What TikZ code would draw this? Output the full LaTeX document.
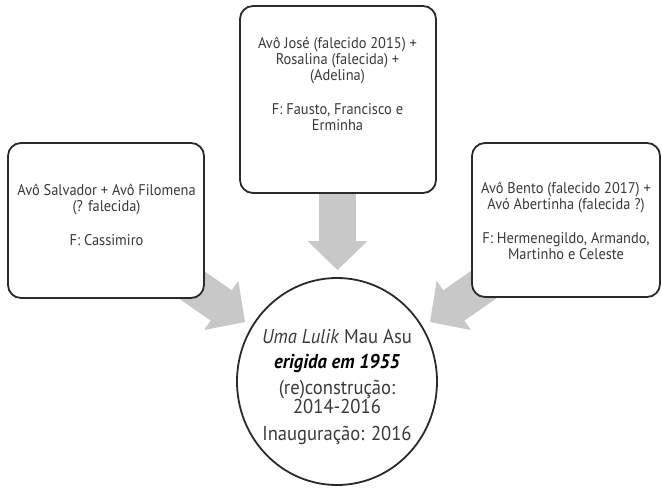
\documentclass[tikz,border=0pt]{standalone}
\usepackage{fontspec}
\setmainfont{PT Sans}[FakeStretch=0.93]
\usetikzlibrary{arrows.meta,shapes.geometric}
\definecolor{arrowgray}{HTML}{C8C8C8}
\definecolor{inkline}{HTML}{2A2A2A}
\definecolor{inktext}{HTML}{3A3A3A}
\begin{document}
\begin{tikzpicture}[x=1pt,y=-1pt,
  famebox/.style={draw=inkline, line width=1.8pt, rounded corners=13pt, fill=white, inner sep=0pt, rectangle},
  boxtext/.style={align=center, text=inktext, font=\fontsize{15.5}{16}\selectfont, inner sep=0pt},
  hubtext/.style={align=center, text=inktext, font=\fontsize{20}{19}\selectfont, inner sep=0pt},
  blockarrow/.style={draw=arrowgray, line width=37pt, -{Triangle[length=29pt,width=60pt,line width=0pt]}}]
\useasboundingbox (0,0) rectangle (662,488);

% end points of the three grey block arrows
\coordinate (tstart) at (337.5,185);
\coordinate (ttip) at (337.5,270);
\coordinate (lstart) at (179.3,276.3);
\coordinate (ltip) at (245,322);
\coordinate (rstart) at (495.7,276.3);
\coordinate (rtip) at (430,322);

\draw[blockarrow] (tstart) -- (ttip);
\draw[blockarrow] (lstart) -- (ltip);
\draw[blockarrow] (rstart) -- (rtip);

% family boxes
\node[famebox, minimum width=196pt, minimum height=155pt] (lbox) at (106,220.5) {};
\node[famebox, minimum width=196pt, minimum height=187pt] (tbox) at (338,99.5) {};
\node[famebox, minimum width=188pt, minimum height=154pt] (rbox) at (566,220) {};

\node[boxtext] (ltxt) at (106.5,215) {Avô Salvador + Avô Filomena\\(? falecida)\\[18pt]F: Cassimiro};
\node[boxtext] (ttxt) at (337.5,84) {Avô José (falecido 2015) +\\Rosalina (falecida) +\\(Adelina)\\[18pt]F: Fausto, Francisco e\\Erminha};
\node[boxtext] (rtxt) at (566,221) {Avô Bento (falecido 2017) +\\Avó Abertinha (falecida ?)\\[18pt]F: Hermenegildo, Armando,\\Martinho e Celeste};

% the sacred house
\node[draw=inkline, line width=1.8pt, ellipse, fill=white, minimum width=200pt, minimum height=207pt, inner sep=0pt] (hub) at (337,381.5) {};
\node[hubtext] (htxt) at (337,387.5) {\textit{Uma Lulik} Mau Asu\\[6pt]{\color{black}\bfseries\itshape erigida em 1955}\\[7pt](re)construção:\\2014-2016\\[8pt]Inauguração: 2016};
\end{tikzpicture}
\end{document}
